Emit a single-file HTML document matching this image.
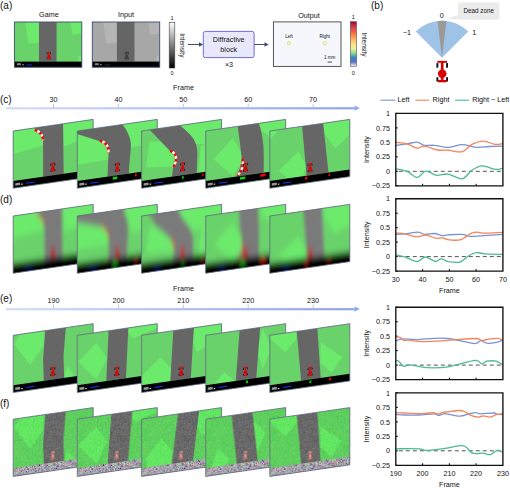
<!DOCTYPE html>
<html><head><meta charset="utf-8"><style>
html,body{margin:0;padding:0;background:#fff;width:510px;height:488px;overflow:hidden}
svg{display:block;font-family:"Liberation Sans",sans-serif}
</style></head><body>
<svg width="510" height="488" viewBox="0 0 510 488" font-family="Liberation Sans, sans-serif" fill="#111">
<defs>
<linearGradient id="tl" x1="0" x2="1" y1="0" y2="0"><stop offset="0" stop-color="#d5dcf4"/><stop offset="1" stop-color="#8ea5ea"/></linearGradient>
<linearGradient id="gbar" x1="0" x2="0" y1="0" y2="1"><stop offset="0" stop-color="#ffffff"/><stop offset="1" stop-color="#000000"/></linearGradient>
<linearGradient id="spec" x1="0" x2="0" y1="0" y2="1">
<stop offset="0" stop-color="#9e0142"/><stop offset="0.12" stop-color="#d53e4f"/><stop offset="0.25" stop-color="#f46d43"/>
<stop offset="0.38" stop-color="#fdae61"/><stop offset="0.5" stop-color="#fee08b"/><stop offset="0.6" stop-color="#e6f598"/>
<stop offset="0.7" stop-color="#99d594"/><stop offset="0.8" stop-color="#3288bd"/><stop offset="0.9" stop-color="#5e6fc2"/><stop offset="1" stop-color="#ffffff"/>
</linearGradient>
<filter id="blur" x="-20%" y="-20%" width="140%" height="140%"><feGaussianBlur stdDeviation="1.8 3"/></filter>
<filter id="noise" x="0" y="0" width="100%" height="100%">
<feTurbulence type="fractalNoise" baseFrequency="1.6" numOctaves="1" seed="3" result="n"/>
<feColorMatrix in="n" type="matrix" values="1.2 0.6 0 0 -0.4  0.6 1.2 0 0 -0.4  0 0.6 1.2 0 -0.4  0 0 0 0 1" result="nc"/>
<feComposite in="SourceGraphic" in2="nc" operator="arithmetic" k1="0" k2="1" k3="0.16" k4="-0.08"/>
</filter>
<filter id="cnoise" x="0" y="0" width="100%" height="100%">
<feTurbulence type="fractalNoise" baseFrequency="1.4" numOctaves="1" seed="7" result="n"/>
<feColorMatrix in="n" type="matrix" values="1.5 0.25 0.25 0 -0.62  0.25 1.5 0.25 0 -0.65  0.25 0.25 1.5 0 -0.6  0 0 0 0 1"/>
</filter>
</defs>
<rect width="510" height="488" fill="#fff"/>
<text x="0" y="8.7" font-size="10">(a)</text>
<text x="48.9" y="17.4" font-size="7.2" text-anchor="middle">Game</text>
<g transform="translate(14.4,22)"><rect x="0" y="0" width="67.4" height="45.2" fill="#6ad26a"/><polygon points="11,0 24.6,0 24.6,20.5 14,21.5" fill="#6cea6c"/><polygon points="56,0 67.4,0 67.4,11.3 58.2,12.7" fill="#6cea6c"/><polygon points="63.5,39.6 64.5,34 67.4,33.5 67.4,39.6" fill="#6cea6c"/><polygon points="24.6,0 42.2,0 42.2,39.6 24.6,39.6" fill="#666666"/><g transform="translate(34.4,29.8) scale(0.357)"><rect x="-4.9" y="0" width="9.8" height="2.2" fill="#e00000"/><rect x="-5.8" y="2.2" width="2.2" height="4.6" fill="#111"/><rect x="3.6" y="2.2" width="2.2" height="4.6" fill="#111"/><rect x="-1.5" y="1" width="3" height="18" fill="#e00000"/><ellipse cx="0" cy="12.9" rx="4.3" ry="4.4" fill="#e00000"/><rect x="-5.8" y="16.3" width="2.2" height="4.3" fill="#111"/><rect x="3.6" y="16.3" width="2.2" height="4.3" fill="#111"/><rect x="-4.4" y="18.8" width="8.8" height="2.6" fill="#e00000"/></g><rect x="0" y="39.6" width="67.4" height="5.6" fill="#000"/><rect x="2.5" y="41.2" width="4" height="2" fill="#aaa" opacity="0.8"/><rect x="8" y="42.3" width="1.2" height="0.9" fill="#fff"/><rect x="12" y="42.5" width="6" height="0.8" fill="#2030ff"/><rect x="0" y="0" width="67.4" height="45.2" fill="none" stroke="#3e4c6c" stroke-width="0.9"/></g>
<text x="125.9" y="17.4" font-size="7.2" text-anchor="middle">Input</text>
<g transform="translate(92.3,22)"><rect x="0" y="0" width="67.4" height="45.2" fill="#a7a7a7"/><polygon points="11,0 24.6,0 24.6,20.5 14,21.5" fill="#b5b5b5"/><polygon points="56,0 67.4,0 67.4,11.3 58.2,12.7" fill="#b5b5b5"/><polygon points="63.5,39.6 64.5,34 67.4,33.5 67.4,39.6" fill="#b5b5b5"/><polygon points="24.6,0 42.2,0 42.2,39.6 24.6,39.6" fill="#656565"/><g transform="translate(34.4,29.8) scale(0.357)"><rect x="-4.9" y="0" width="9.8" height="2.2" fill="#3a3a3a"/><rect x="-5.8" y="2.2" width="2.2" height="4.6" fill="#222"/><rect x="3.6" y="2.2" width="2.2" height="4.6" fill="#222"/><rect x="-1.5" y="1" width="3" height="18" fill="#3a3a3a"/><ellipse cx="0" cy="12.9" rx="4.3" ry="4.4" fill="#3a3a3a"/><rect x="-5.8" y="16.3" width="2.2" height="4.3" fill="#222"/><rect x="3.6" y="16.3" width="2.2" height="4.3" fill="#222"/><rect x="-4.4" y="18.8" width="8.8" height="2.6" fill="#3a3a3a"/></g><rect x="0" y="39.6" width="67.4" height="5.6" fill="#000"/><rect x="2.5" y="41.2" width="4" height="2" fill="#aaa" opacity="0.8"/><rect x="8" y="42.3" width="1.2" height="0.9" fill="#fff"/><rect x="12" y="42.5" width="6" height="0.8" fill="#333"/><rect x="0" y="0" width="67.4" height="45.2" fill="none" stroke="#3e4c6c" stroke-width="0.9"/></g>
<rect x="169.2" y="22.6" width="5.6" height="45.4" fill="url(#gbar)" stroke="#444" stroke-width="0.6"/>
<text x="172" y="19.6" font-size="5.5" text-anchor="middle">1</text>
<text x="172" y="75" font-size="5.5" text-anchor="middle">0</text>
<text transform="translate(179.5,45.3) rotate(90)" font-size="6.5" text-anchor="middle">Intensity</text>
<line x1="188" y1="44.5" x2="200" y2="44.5" stroke="#3d4f70" stroke-width="1"/><polygon points="199,42.3 203.2,44.5 199,46.7" fill="#3d4f70"/>
<rect x="203.3" y="31.4" width="50.8" height="26.2" rx="2" fill="#e8e8fa" stroke="#6e6ed8" stroke-width="1"/>
<text x="228.7" y="42.3" font-size="7.2" text-anchor="middle">Diffractive</text>
<text x="228.7" y="51.6" font-size="7.2" text-anchor="middle">block</text>
<text x="229" y="67.4" font-size="7.2" text-anchor="middle">×3</text>
<line x1="254.2" y1="44.5" x2="265" y2="44.5" stroke="#3d4f70" stroke-width="1"/><polygon points="264.5,42.3 268.7,44.5 264.5,46.7" fill="#3d4f70"/>
<text x="309" y="17.6" font-size="7.2" text-anchor="middle">Output</text>
<rect x="273.4" y="21.9" width="67.6" height="44.5" fill="#f5f7fc" stroke="#444" stroke-width="0.9"/>
<text x="289" y="38.2" font-size="4.6" text-anchor="middle">Left</text>
<text x="324.8" y="38.2" font-size="4.6" text-anchor="middle">Right</text>
<circle cx="289" cy="43.3" r="1.7" fill="#f3f8d0" stroke="#c8dc60" stroke-width="0.7"/>
<circle cx="324.8" cy="43.3" r="1.7" fill="#f3f8d0" stroke="#c8dc60" stroke-width="0.7"/>
<text x="329.7" y="59" font-size="4.6" text-anchor="middle">1 mm</text>
<rect x="327.6" y="61.6" width="4.2" height="0.9" fill="#333"/>
<rect x="350.3" y="21.7" width="6.3" height="44.8" fill="url(#spec)" stroke="#555" stroke-width="0.6"/>
<text x="353.3" y="19.2" font-size="5.5" text-anchor="middle">1</text>
<text x="353.3" y="75" font-size="5.5" text-anchor="middle">0</text>
<text transform="translate(361.5,44.5) rotate(90)" font-size="6.5" text-anchor="middle">Intensity</text>
<text x="371" y="9" font-size="10">(b)</text>
<path d="M442,57.8 L415.8,31.6 A37,37 0 0 1 468.2,31.6 Z" fill="#9fc2e7"/>
<path d="M442,57.8 L437.5,21.1 A37,37 0 0 1 446.5,21.1 Z" fill="#9a9a9a"/>
<text x="441.8" y="17.8" font-size="7.2" text-anchor="middle">0</text>
<text x="407" y="35.2" font-size="7.2" text-anchor="middle">−1</text>
<text x="474.3" y="35.2" font-size="7.2" text-anchor="middle">1</text>
<path d="M460,2.3 H497 Q499.5,2.3 499.5,4.8 V17.3 Q499.5,19.7 497,19.7 H465 L446.5,18.8 L458,15 V4.8 Q458,2.3 460,2.3 Z" fill="#ebebeb"/>
<text x="478.8" y="13.4" font-size="6.3" text-anchor="middle">Dead zone</text>
<g transform="translate(442.2,60.9)"><rect x="-4.9" y="0" width="9.8" height="1.9" fill="#d80000"/><rect x="-5.8" y="2.2" width="1.9" height="4.6" fill="#111"/><rect x="3.9" y="2.2" width="1.9" height="4.6" fill="#111"/><rect x="-1.3" y="1" width="2.6" height="18" fill="#d80000"/><ellipse cx="0" cy="12.9" rx="4.3" ry="4.2" fill="#d80000"/><rect x="-5.8" y="16.3" width="1.9" height="4.3" fill="#111"/><rect x="3.9" y="16.3" width="1.9" height="4.3" fill="#111"/><rect x="-4.4" y="19" width="8.8" height="2.4" fill="#d80000"/></g>
<text x="0" y="102.6" font-size="10">(c)</text><rect x="6" y="107.2" width="348.5" height="2.2" fill="url(#tl)"/><polygon points="354.5,105.6 359.8,108.2 354.5,110.8" fill="#8fa6ea"/><rect x="53.0" y="103.7" width="1" height="4" fill="#b9c6ef"/><text x="53.5" y="101.6" font-size="7.2" text-anchor="middle">30</text><rect x="117.9" y="103.7" width="1" height="4" fill="#b9c6ef"/><text x="118.4" y="101.6" font-size="7.2" text-anchor="middle">40</text><rect x="182.8" y="103.7" width="1" height="4" fill="#b9c6ef"/><text x="183.3" y="101.6" font-size="7.2" text-anchor="middle">50</text><rect x="247.7" y="103.7" width="1" height="4" fill="#b9c6ef"/><text x="248.2" y="101.6" font-size="7.2" text-anchor="middle">60</text><rect x="312.6" y="103.7" width="1" height="4" fill="#b9c6ef"/><text x="313.1" y="101.6" font-size="7.2" text-anchor="middle">70</text><text x="183.5" y="90.2" font-size="7.2" text-anchor="middle">Frame</text>
<text x="0" y="302.0" font-size="10">(e)</text><rect x="6" y="308.1" width="348.5" height="2.2" fill="url(#tl)"/><polygon points="354.5,306.5 359.8,309.1 354.5,311.7" fill="#8fa6ea"/><rect x="53.0" y="304.6" width="1" height="4" fill="#b9c6ef"/><text x="53.5" y="302.5" font-size="7.2" text-anchor="middle">190</text><rect x="117.9" y="304.6" width="1" height="4" fill="#b9c6ef"/><text x="118.4" y="302.5" font-size="7.2" text-anchor="middle">200</text><rect x="182.8" y="304.6" width="1" height="4" fill="#b9c6ef"/><text x="183.3" y="302.5" font-size="7.2" text-anchor="middle">210</text><rect x="247.7" y="304.6" width="1" height="4" fill="#b9c6ef"/><text x="248.2" y="302.5" font-size="7.2" text-anchor="middle">220</text><rect x="312.6" y="304.6" width="1" height="4" fill="#b9c6ef"/><text x="313.1" y="302.5" font-size="7.2" text-anchor="middle">230</text><text x="183.5" y="291.2" font-size="7.2" text-anchor="middle">Frame</text>
<text x="0" y="202.6" font-size="10">(d)</text>
<text x="0" y="406.6" font-size="10">(f)</text>
<g transform="matrix(1,-0.145,0,1,13.2,131.0)"><clipPath id="clip_c0"><rect x="0" y="0" width="80" height="57.2"/></clipPath><rect x="0" y="0" width="80" height="57.2" fill="#fff"/><g clip-path="url(#clip_c0)"><rect x="0" y="0" width="80" height="57.2" fill="#6ad26a"/><polygon points="0.0,0.0 21.5,0.0 29.9,13.5 29.9,18.8 0.0,23.2" fill="#6cea6c"/><polygon points="49.8,0.0 80.0,0.0 80.0,15.0 50.5,23.0" fill="#6cea6c"/><polygon points="62.0,50.0 80.0,38.0 80.0,50.0" fill="#6cea6c"/><polygon points="21.0,0.0 49.8,0.0 50.5,50.0 29.9,50.0 29.9,13.5 28.5,8.0 25.0,3.5" fill="#666666"/><path d="M21.5,2.2 Q28.8,4.5 29.9,13.5" fill="none" stroke="#ff0000" stroke-width="2.2"/><path d="M21.5,2.2 Q28.8,4.5 29.9,13.5" fill="none" stroke="#ffffff" stroke-width="2.2" stroke-dasharray="2.8 2.8" stroke-dashoffset="2.8"/><g transform="translate(39.7,37.5) scale(0.420)"><rect x="-4.9" y="0" width="9.8" height="2.2" fill="#e00000"/><rect x="-5.8" y="2.2" width="2.2" height="4.6" fill="#111"/><rect x="3.6" y="2.2" width="2.2" height="4.6" fill="#111"/><rect x="-1.5" y="1" width="3" height="18" fill="#e00000"/><ellipse cx="0" cy="12.9" rx="4.3" ry="4.4" fill="#e00000"/><rect x="-5.8" y="16.3" width="2.2" height="4.3" fill="#111"/><rect x="3.6" y="16.3" width="2.2" height="4.3" fill="#111"/><rect x="-4.4" y="18.8" width="8.8" height="2.6" fill="#e00000"/></g><rect x="0" y="50" width="80" height="7.2" fill="#000"/><rect x="2" y="52.5" width="5" height="2.6" fill="#bbb" opacity="0.8"/><rect x="8" y="54" width="1.5" height="1" fill="#fff"/><rect x="13" y="53.6" width="8.5" height="1" fill="#2030ff"/></g><rect x="0" y="0" width="80" height="57.2" fill="none" stroke="#5a6478" stroke-width="0.8"/></g><g transform="matrix(1,-0.145,0,1,77.3,131.0)"><clipPath id="clip_c1"><rect x="0" y="0" width="80" height="57.2"/></clipPath><rect x="0" y="0" width="80" height="57.2" fill="#fff"/><g clip-path="url(#clip_c1)"><rect x="0" y="0" width="80" height="57.2" fill="#6ad26a"/><polygon points="0.0,3.0 23.5,14.0 31.3,19.8 31.0,33.0 0.0,34.0" fill="#6cea6c"/><polygon points="45.0,0.0 80.0,0.0 80.0,24.0 53.0,24.0 53.6,20.4 50.7,9.9" fill="#6cea6c"/><polygon points="0.0,0.0 45.0,0.0 48.5,5.0 50.7,9.9 52.6,15.0 53.6,20.4 53.5,26.0 52.9,31.7 52.0,40.0 51.5,50.0 30.1,50.0 31.3,26.6 30.0,21.0 27.0,17.0 23.5,14.0 0.0,3.0" fill="#666666"/><path d="M22.5,13.2 Q31.5,16 31.3,26.6" fill="none" stroke="#ff0000" stroke-width="2.2"/><path d="M22.5,13.2 Q31.5,16 31.3,26.6" fill="none" stroke="#ffffff" stroke-width="2.2" stroke-dasharray="2.8 2.8" stroke-dashoffset="2.8"/><g transform="translate(40.0,37.5) scale(0.420)"><rect x="-4.9" y="0" width="9.8" height="2.2" fill="#e00000"/><rect x="-5.8" y="2.2" width="2.2" height="4.6" fill="#111"/><rect x="3.6" y="2.2" width="2.2" height="4.6" fill="#111"/><rect x="-1.5" y="1" width="3" height="18" fill="#e00000"/><ellipse cx="0" cy="12.9" rx="4.3" ry="4.4" fill="#e00000"/><rect x="-5.8" y="16.3" width="2.2" height="4.3" fill="#111"/><rect x="3.6" y="16.3" width="2.2" height="4.3" fill="#111"/><rect x="-4.4" y="18.8" width="8.8" height="2.6" fill="#e00000"/></g><rect x="0" y="50" width="80" height="7.2" fill="#000"/><rect x="2" y="52.5" width="5" height="2.6" fill="#bbb" opacity="0.8"/><rect x="8" y="54" width="1.5" height="1" fill="#fff"/><rect x="13" y="53.6" width="8.5" height="1" fill="#2030ff"/><rect x="35.6" y="51.2" width="4.4" height="2.6" fill="#00e000"/><rect x="57.7" y="51.2" width="1.7" height="2.6" fill="#ff0000"/></g><rect x="0" y="0" width="80" height="57.2" fill="none" stroke="#5a6478" stroke-width="0.8"/></g><g transform="matrix(1,-0.145,0,1,141.6,131.0)"><clipPath id="clip_c2"><rect x="0" y="0" width="80" height="57.2"/></clipPath><rect x="0" y="0" width="80" height="57.2" fill="#fff"/><g clip-path="url(#clip_c2)"><rect x="0" y="0" width="80" height="57.2" fill="#6ad26a"/><polygon points="8.0,11.7 23.9,13.9 28.4,24.1 33.0,30.0 32.0,40.0 4.4,37.5" fill="#6cea6c"/><polygon points="38.4,0.0 80.0,0.0 80.0,20.0 64.0,22.0 54.4,21.2 48.4,11.0" fill="#6cea6c"/><polygon points="59.0,24.0 64.0,22.0 64.0,50.0 57.0,50.0" fill="#6cea6c"/><polygon points="8.0,0.0 38.4,0.0 43.5,5.0 48.4,10.5 52.0,15.5 54.4,21.2 55.5,26.5 55.8,32.0 55.5,40.0 55.1,50.0 30.4,50.0 31.7,40.6 34.4,34.3 33.7,28.9 28.4,24.1" fill="#666666"/><path d="M28.4,24.1 C33,26 35,30 34.4,34.3 C34,37 33,39 31.7,40.6" fill="none" stroke="#ff0000" stroke-width="2.2"/><path d="M28.4,24.1 C33,26 35,30 34.4,34.3 C34,37 33,39 31.7,40.6" fill="none" stroke="#ffffff" stroke-width="2.2" stroke-dasharray="2.8 2.8" stroke-dashoffset="2.8"/><g transform="translate(41.0,37.3) scale(0.420)"><rect x="-4.9" y="0" width="9.8" height="2.2" fill="#e00000"/><rect x="-5.8" y="2.2" width="2.2" height="4.6" fill="#111"/><rect x="3.6" y="2.2" width="2.2" height="4.6" fill="#111"/><rect x="-1.5" y="1" width="3" height="18" fill="#e00000"/><ellipse cx="0" cy="12.9" rx="4.3" ry="4.4" fill="#e00000"/><rect x="-5.8" y="16.3" width="2.2" height="4.3" fill="#111"/><rect x="3.6" y="16.3" width="2.2" height="4.3" fill="#111"/><rect x="-4.4" y="18.8" width="8.8" height="2.6" fill="#e00000"/></g><rect x="0" y="50" width="80" height="7.2" fill="#000"/><rect x="2" y="52.5" width="5" height="2.6" fill="#bbb" opacity="0.8"/><rect x="8" y="54" width="1.5" height="1" fill="#fff"/><rect x="13" y="53.6" width="8.5" height="1" fill="#2030ff"/><rect x="40.5" y="51.2" width="1.5" height="2.6" fill="#00e000"/><rect x="60.5" y="51.2" width="1.5" height="2.6" fill="#ff0000"/></g><rect x="0" y="0" width="80" height="57.2" fill="none" stroke="#5a6478" stroke-width="0.8"/></g><g transform="matrix(1,-0.145,0,1,205.7,131.0)"><clipPath id="clip_c3"><rect x="0" y="0" width="80" height="57.2"/></clipPath><rect x="0" y="0" width="80" height="57.2" fill="#fff"/><g clip-path="url(#clip_c3)"><rect x="0" y="0" width="80" height="57.2" fill="#6ad26a"/><polygon points="27.0,10.7 37.0,29.4 34.0,40.0 27.0,48.7 8.1,29.5" fill="#6cea6c"/><polygon points="53.0,0.0 80.0,0.0 80.0,30.0 68.0,18.0 56.0,8.0" fill="#6cea6c"/><polygon points="32.0,0.0 52.9,0.0 54.6,5.0 55.8,10.0 57.0,17.0 57.8,25.0 58.1,36.4 58.0,50.0 31.5,50.0 36.3,35.1 34.0,15.0" fill="#666666"/><path d="M36.8,33 Q38.2,44 31.5,49.5" fill="none" stroke="#ff0000" stroke-width="2.2"/><path d="M36.8,33 Q38.2,44 31.5,49.5" fill="none" stroke="#ffffff" stroke-width="2.2" stroke-dasharray="2.8 2.8" stroke-dashoffset="2.8"/><g transform="translate(40.0,37.5) scale(0.420)"><rect x="-4.9" y="0" width="9.8" height="2.2" fill="#e00000"/><rect x="-5.8" y="2.2" width="2.2" height="4.6" fill="#111"/><rect x="3.6" y="2.2" width="2.2" height="4.6" fill="#111"/><rect x="-1.5" y="1" width="3" height="18" fill="#e00000"/><ellipse cx="0" cy="12.9" rx="4.3" ry="4.4" fill="#e00000"/><rect x="-5.8" y="16.3" width="2.2" height="4.3" fill="#111"/><rect x="3.6" y="16.3" width="2.2" height="4.3" fill="#111"/><rect x="-4.4" y="18.8" width="8.8" height="2.6" fill="#e00000"/></g><rect x="0" y="50" width="80" height="7.2" fill="#000"/><rect x="2" y="52.5" width="5" height="2.6" fill="#bbb" opacity="0.8"/><rect x="8" y="54" width="1.5" height="1" fill="#fff"/><rect x="13" y="53.6" width="8.5" height="1" fill="#2030ff"/><rect x="34.3" y="51.2" width="5.3" height="2.6" fill="#00e000"/><rect x="54.6" y="51.2" width="5.3" height="2.6" fill="#ff0000"/></g><rect x="0" y="0" width="80" height="57.2" fill="none" stroke="#5a6478" stroke-width="0.8"/></g><g transform="matrix(1,-0.145,0,1,269.8,131.0)"><clipPath id="clip_c4"><rect x="0" y="0" width="80" height="57.2"/></clipPath><rect x="0" y="0" width="80" height="57.2" fill="#fff"/><g clip-path="url(#clip_c4)"><rect x="0" y="0" width="80" height="57.2" fill="#6ad26a"/><polygon points="0.0,0.0 9.0,0.0 0.0,9.0" fill="#6cea6c"/><polygon points="28.5,24.5 36.8,40.0 33.0,50.0 18.0,50.0 8.8,41.4" fill="#6cea6c"/><polygon points="53.3,0.0 80.0,0.0 80.0,15.7 65.6,26.8 54.8,10.6" fill="#6cea6c"/><polygon points="32.3,0.0 53.3,0.0 58.7,50.0 36.8,50.0" fill="#666666"/><g transform="translate(40.2,38.0) scale(0.420)"><rect x="-4.9" y="0" width="9.8" height="2.2" fill="#e00000"/><rect x="-5.8" y="2.2" width="2.2" height="4.6" fill="#111"/><rect x="3.6" y="2.2" width="2.2" height="4.6" fill="#111"/><rect x="-1.5" y="1" width="3" height="18" fill="#e00000"/><ellipse cx="0" cy="12.9" rx="4.3" ry="4.4" fill="#e00000"/><rect x="-5.8" y="16.3" width="2.2" height="4.3" fill="#111"/><rect x="3.6" y="16.3" width="2.2" height="4.3" fill="#111"/><rect x="-4.4" y="18.8" width="8.8" height="2.6" fill="#e00000"/></g><rect x="0" y="50" width="80" height="7.2" fill="#000"/><rect x="2" y="52.5" width="5" height="2.6" fill="#bbb" opacity="0.8"/><rect x="8" y="54" width="1.5" height="1" fill="#fff"/><rect x="13" y="53.6" width="8.5" height="1" fill="#2030ff"/><rect x="35.3" y="51.2" width="2.3" height="2.6" fill="#ff0000"/><rect x="58.7" y="51.2" width="1.5" height="2.6" fill="#ff0000"/></g><rect x="0" y="0" width="80" height="57.2" fill="none" stroke="#5a6478" stroke-width="0.8"/></g>
<g transform="matrix(1,-0.145,0,1,13.2,216.0)"><clipPath id="clip_d0"><rect x="0" y="0" width="80" height="57.2"/></clipPath><rect x="0" y="0" width="80" height="57.2" fill="#fff"/><g clip-path="url(#clip_d0)"><g filter="url(#blur)"><rect x="-12" y="-12" width="104" height="81" fill="#6ad26a"/><polygon points="-12.0,-12.0 21.5,-12.0 29.9,13.5 29.9,18.8 -12.0,23.2" fill="#6cea6c"/><polygon points="49.8,-12.0 92.0,-12.0 92.0,15.0 50.5,23.0" fill="#6cea6c"/><polygon points="62.0,50.0 92.0,38.0 92.0,50.0" fill="#6cea6c"/><polygon points="22.0,-12.0 48.8,-12.0 49.6,50.0 31.3,50.0 31.0,13.5 29.5,8.0 26.0,3.5" fill="#7a7a7a"/><path d="M22.5,2.2 Q29.8,4.5 31,13.5" fill="none" stroke="#d87038" stroke-width="1.8" opacity="0.8"/><g transform="translate(39.7,37.5) scale(0.420)"><rect x="-4.9" y="0" width="9.8" height="2.2" fill="#e00000"/><rect x="-5.8" y="2.2" width="2.2" height="4.6" fill="#111"/><rect x="3.6" y="2.2" width="2.2" height="4.6" fill="#111"/><rect x="-1.5" y="1" width="3" height="18" fill="#e00000"/><ellipse cx="0" cy="12.9" rx="4.3" ry="4.4" fill="#e00000"/><rect x="-5.8" y="16.3" width="2.2" height="4.3" fill="#111"/><rect x="3.6" y="16.3" width="2.2" height="4.3" fill="#111"/><rect x="-4.4" y="18.8" width="8.8" height="2.6" fill="#e00000"/></g><rect x="-12" y="47.5" width="104" height="22" fill="#000"/><rect x="12" y="53.8" width="8" height="1.2" fill="#1828a0"/></g></g><rect x="0" y="0" width="80" height="57.2" fill="none" stroke="#5a6478" stroke-width="0.8"/></g><g transform="matrix(1,-0.145,0,1,77.3,216.0)"><clipPath id="clip_d1"><rect x="0" y="0" width="80" height="57.2"/></clipPath><rect x="0" y="0" width="80" height="57.2" fill="#fff"/><g clip-path="url(#clip_d1)"><g filter="url(#blur)"><rect x="-12" y="-12" width="104" height="81" fill="#6ad26a"/><polygon points="-12.0,3.0 23.5,14.0 31.3,19.8 31.0,33.0 -12.0,34.0" fill="#6cea6c"/><polygon points="45.0,-12.0 92.0,-12.0 92.0,24.0 53.0,24.0 53.6,20.4 50.7,9.9" fill="#6cea6c"/><polygon points="-12.0,-12.0 44.0,-12.0 47.5,5.0 49.5,10.0 51.0,20.0 50.5,32.0 49.5,50.0 31.0,50.0 31.3,26.6 30.0,21.0 27.0,17.0 23.5,14.0 -12.0,3.0" fill="#7a7a7a"/><path d="M22.5,13.2 Q31.5,16 31.3,26.6" fill="none" stroke="#d87038" stroke-width="1.8" opacity="0.8"/><g transform="translate(40.0,37.5) scale(0.420)"><rect x="-4.9" y="0" width="9.8" height="2.2" fill="#e00000"/><rect x="-5.8" y="2.2" width="2.2" height="4.6" fill="#111"/><rect x="3.6" y="2.2" width="2.2" height="4.6" fill="#111"/><rect x="-1.5" y="1" width="3" height="18" fill="#e00000"/><ellipse cx="0" cy="12.9" rx="4.3" ry="4.4" fill="#e00000"/><rect x="-5.8" y="16.3" width="2.2" height="4.3" fill="#111"/><rect x="3.6" y="16.3" width="2.2" height="4.3" fill="#111"/><rect x="-4.4" y="18.8" width="8.8" height="2.6" fill="#e00000"/></g><rect x="-12" y="47.5" width="104" height="22" fill="#000"/><rect x="12" y="53.8" width="8" height="1.2" fill="#1828a0"/><rect x="35.6" y="51.2" width="4.4" height="2.6" fill="#00e000"/><rect x="57.7" y="51.2" width="1.7" height="2.6" fill="#ff0000"/></g></g><rect x="0" y="0" width="80" height="57.2" fill="none" stroke="#5a6478" stroke-width="0.8"/></g><g transform="matrix(1,-0.145,0,1,141.6,216.0)"><clipPath id="clip_d2"><rect x="0" y="0" width="80" height="57.2"/></clipPath><rect x="0" y="0" width="80" height="57.2" fill="#fff"/><g clip-path="url(#clip_d2)"><g filter="url(#blur)"><rect x="-12" y="-12" width="104" height="81" fill="#6ad26a"/><polygon points="8.0,11.7 23.9,13.9 28.4,24.1 33.0,30.0 32.0,40.0 4.4,37.5" fill="#6cea6c"/><polygon points="31.7,-12.0 92.0,-12.0 92.0,20.0 64.0,22.0 51.0,21.0 41.0,8.0" fill="#6cea6c"/><polygon points="59.0,24.0 64.0,22.0 64.0,50.0 57.0,50.0" fill="#6cea6c"/><polygon points="1.7,-12.0 31.7,-12.0 41.0,8.0 48.4,19.3 51.0,26.0 51.7,33.2 51.7,50.0 31.0,50.0 32.5,38.0 28.4,26.4 14.0,12.0" fill="#7a7a7a"/><path d="M28.4,26.4 Q33.5,30 32.5,38" fill="none" stroke="#d87038" stroke-width="1.8" opacity="0.8"/><g transform="translate(41.0,37.3) scale(0.420)"><rect x="-4.9" y="0" width="9.8" height="2.2" fill="#e00000"/><rect x="-5.8" y="2.2" width="2.2" height="4.6" fill="#111"/><rect x="3.6" y="2.2" width="2.2" height="4.6" fill="#111"/><rect x="-1.5" y="1" width="3" height="18" fill="#e00000"/><ellipse cx="0" cy="12.9" rx="4.3" ry="4.4" fill="#e00000"/><rect x="-5.8" y="16.3" width="2.2" height="4.3" fill="#111"/><rect x="3.6" y="16.3" width="2.2" height="4.3" fill="#111"/><rect x="-4.4" y="18.8" width="8.8" height="2.6" fill="#e00000"/></g><rect x="-12" y="47.5" width="104" height="22" fill="#000"/><rect x="12" y="53.8" width="8" height="1.2" fill="#1828a0"/><rect x="40.5" y="51.2" width="1.5" height="2.6" fill="#00e000"/><rect x="60.5" y="51.2" width="1.5" height="2.6" fill="#ff0000"/></g></g><rect x="0" y="0" width="80" height="57.2" fill="none" stroke="#5a6478" stroke-width="0.8"/></g><g transform="matrix(1,-0.145,0,1,205.7,216.0)"><clipPath id="clip_d3"><rect x="0" y="0" width="80" height="57.2"/></clipPath><rect x="0" y="0" width="80" height="57.2" fill="#fff"/><g clip-path="url(#clip_d3)"><g filter="url(#blur)"><rect x="-12" y="-12" width="104" height="81" fill="#6ad26a"/><polygon points="27.0,10.7 37.0,29.4 34.0,40.0 27.0,48.7 8.1,29.5" fill="#6cea6c"/><polygon points="53.0,-12.0 92.0,-12.0 92.0,30.0 68.0,18.0 56.0,8.0" fill="#6cea6c"/><polygon points="32.5,-12.0 51.6,-12.0 53.2,15.0 53.5,30.0 53.3,50.0 32.0,50.0 36.6,35.0 34.0,15.0" fill="#7a7a7a"/><path d="M36.8,33 Q38.2,44 31.5,49.5" fill="none" stroke="#d87038" stroke-width="1.8" opacity="0.8"/><g transform="translate(40.0,37.5) scale(0.420)"><rect x="-4.9" y="0" width="9.8" height="2.2" fill="#e00000"/><rect x="-5.8" y="2.2" width="2.2" height="4.6" fill="#111"/><rect x="3.6" y="2.2" width="2.2" height="4.6" fill="#111"/><rect x="-1.5" y="1" width="3" height="18" fill="#e00000"/><ellipse cx="0" cy="12.9" rx="4.3" ry="4.4" fill="#e00000"/><rect x="-5.8" y="16.3" width="2.2" height="4.3" fill="#111"/><rect x="3.6" y="16.3" width="2.2" height="4.3" fill="#111"/><rect x="-4.4" y="18.8" width="8.8" height="2.6" fill="#e00000"/></g><rect x="-12" y="47.5" width="104" height="22" fill="#000"/><rect x="12" y="53.8" width="8" height="1.2" fill="#1828a0"/><rect x="34.3" y="51.2" width="5.3" height="2.6" fill="#00e000"/><rect x="54.6" y="51.2" width="5.3" height="2.6" fill="#ff0000"/></g></g><rect x="0" y="0" width="80" height="57.2" fill="none" stroke="#5a6478" stroke-width="0.8"/></g><g transform="matrix(1,-0.145,0,1,269.8,216.0)"><clipPath id="clip_d4"><rect x="0" y="0" width="80" height="57.2"/></clipPath><rect x="0" y="0" width="80" height="57.2" fill="#fff"/><g clip-path="url(#clip_d4)"><g filter="url(#blur)"><rect x="-12" y="-12" width="104" height="81" fill="#6ad26a"/><polygon points="-12.0,-12.0 9.0,-12.0 -12.0,9.0" fill="#6cea6c"/><polygon points="28.5,24.5 36.8,40.0 33.0,50.0 18.0,50.0 8.8,41.4" fill="#6cea6c"/><polygon points="53.3,-12.0 92.0,-12.0 92.0,15.7 65.6,26.8 54.8,10.6" fill="#6cea6c"/><polygon points="32.4,-12.0 51.5,-12.0 54.9,50.0 37.4,50.0" fill="#7a7a7a"/><g transform="translate(40.2,38.0) scale(0.420)"><rect x="-4.9" y="0" width="9.8" height="2.2" fill="#e00000"/><rect x="-5.8" y="2.2" width="2.2" height="4.6" fill="#111"/><rect x="3.6" y="2.2" width="2.2" height="4.6" fill="#111"/><rect x="-1.5" y="1" width="3" height="18" fill="#e00000"/><ellipse cx="0" cy="12.9" rx="4.3" ry="4.4" fill="#e00000"/><rect x="-5.8" y="16.3" width="2.2" height="4.3" fill="#111"/><rect x="3.6" y="16.3" width="2.2" height="4.3" fill="#111"/><rect x="-4.4" y="18.8" width="8.8" height="2.6" fill="#e00000"/></g><rect x="-12" y="47.5" width="104" height="22" fill="#000"/><rect x="12" y="53.8" width="8" height="1.2" fill="#1828a0"/><rect x="35.3" y="51.2" width="2.3" height="2.6" fill="#ff0000"/><rect x="58.7" y="51.2" width="1.5" height="2.6" fill="#ff0000"/></g></g><rect x="0" y="0" width="80" height="57.2" fill="none" stroke="#5a6478" stroke-width="0.8"/></g>
<g transform="matrix(1,-0.145,0,1,13.2,335.3)"><clipPath id="clip_e0"><rect x="0" y="0" width="80" height="57.2"/></clipPath><rect x="0" y="0" width="80" height="57.2" fill="#fff"/><g clip-path="url(#clip_e0)"><rect x="0" y="0" width="80" height="57.2" fill="#6ad26a"/><polygon points="7.0,0.0 30.8,0.0 30.2,15.0 17.0,31.9 1.1,9.1" fill="#6cea6c"/><polygon points="53.8,38.1 60.8,48.0 60.0,50.0 50.6,50.0" fill="#6cea6c"/><polygon points="32.1,0.0 52.6,0.0 50.3,28.0 51.0,50.0 30.6,50.0 29.9,28.0" fill="#666666"/><g transform="translate(39.7,37.4) scale(0.420)"><rect x="-4.9" y="0" width="9.8" height="2.2" fill="#e00000"/><rect x="-5.8" y="2.2" width="2.2" height="4.6" fill="#111"/><rect x="3.6" y="2.2" width="2.2" height="4.6" fill="#111"/><rect x="-1.5" y="1" width="3" height="18" fill="#e00000"/><ellipse cx="0" cy="12.9" rx="4.3" ry="4.4" fill="#e00000"/><rect x="-5.8" y="16.3" width="2.2" height="4.3" fill="#111"/><rect x="3.6" y="16.3" width="2.2" height="4.3" fill="#111"/><rect x="-4.4" y="18.8" width="8.8" height="2.6" fill="#e00000"/></g><rect x="0" y="50" width="80" height="7.2" fill="#000"/><rect x="2" y="52.5" width="5" height="2.6" fill="#bbb" opacity="0.8"/><rect x="8" y="54" width="1.5" height="1" fill="#fff"/><rect x="13" y="53.6" width="8.5" height="1" fill="#2030ff"/></g><rect x="0" y="0" width="80" height="57.2" fill="none" stroke="#5a6478" stroke-width="0.8"/></g><g transform="matrix(1,-0.145,0,1,77.3,335.3)"><clipPath id="clip_e1"><rect x="0" y="0" width="80" height="57.2"/></clipPath><rect x="0" y="0" width="80" height="57.2" fill="#fff"/><g clip-path="url(#clip_e1)"><rect x="0" y="0" width="80" height="57.2" fill="#6ad26a"/><polygon points="19.2,10.2 29.8,26.9 19.2,47.3 1.0,26.5" fill="#6cea6c"/><polygon points="51.0,0.0 80.0,0.0 80.0,4.0 55.5,11.6 50.8,4.0" fill="#6cea6c"/><polygon points="31.3,0.0 51.0,0.0 48.7,50.0 29.0,50.0" fill="#666666"/><g transform="translate(39.5,37.3) scale(0.420)"><rect x="-4.9" y="0" width="9.8" height="2.2" fill="#e00000"/><rect x="-5.8" y="2.2" width="2.2" height="4.6" fill="#111"/><rect x="3.6" y="2.2" width="2.2" height="4.6" fill="#111"/><rect x="-1.5" y="1" width="3" height="18" fill="#e00000"/><ellipse cx="0" cy="12.9" rx="4.3" ry="4.4" fill="#e00000"/><rect x="-5.8" y="16.3" width="2.2" height="4.3" fill="#111"/><rect x="3.6" y="16.3" width="2.2" height="4.3" fill="#111"/><rect x="-4.4" y="18.8" width="8.8" height="2.6" fill="#e00000"/></g><rect x="0" y="50" width="80" height="7.2" fill="#000"/><rect x="2" y="52.5" width="5" height="2.6" fill="#bbb" opacity="0.8"/><rect x="8" y="54" width="1.5" height="1" fill="#fff"/><rect x="13" y="53.6" width="8.5" height="1" fill="#2030ff"/></g><rect x="0" y="0" width="80" height="57.2" fill="none" stroke="#5a6478" stroke-width="0.8"/></g><g transform="matrix(1,-0.145,0,1,141.6,335.3)"><clipPath id="clip_e2"><rect x="0" y="0" width="80" height="57.2"/></clipPath><rect x="0" y="0" width="80" height="57.2" fill="#fff"/><g clip-path="url(#clip_e2)"><rect x="0" y="0" width="80" height="57.2" fill="#6ad26a"/><polygon points="18.9,24.5 29.5,37.5 29.0,50.0 0.0,50.0 0.0,41.0" fill="#6cea6c"/><polygon points="52.2,0.0 80.0,0.0 80.0,12.0 55.2,25.3 51.5,14.0" fill="#6cea6c"/><polygon points="31.7,0.0 52.2,0.0 49.2,50.0 28.7,50.0" fill="#666666"/><g transform="translate(39.5,37.3) scale(0.420)"><rect x="-4.9" y="0" width="9.8" height="2.2" fill="#e00000"/><rect x="-5.8" y="2.2" width="2.2" height="4.6" fill="#111"/><rect x="3.6" y="2.2" width="2.2" height="4.6" fill="#111"/><rect x="-1.5" y="1" width="3" height="18" fill="#e00000"/><ellipse cx="0" cy="12.9" rx="4.3" ry="4.4" fill="#e00000"/><rect x="-5.8" y="16.3" width="2.2" height="4.3" fill="#111"/><rect x="3.6" y="16.3" width="2.2" height="4.3" fill="#111"/><rect x="-4.4" y="18.8" width="8.8" height="2.6" fill="#e00000"/></g><rect x="0" y="50" width="80" height="7.2" fill="#000"/><rect x="2" y="52.5" width="5" height="2.6" fill="#bbb" opacity="0.8"/><rect x="8" y="54" width="1.5" height="1" fill="#fff"/><rect x="13" y="53.6" width="8.5" height="1" fill="#2030ff"/></g><rect x="0" y="0" width="80" height="57.2" fill="none" stroke="#5a6478" stroke-width="0.8"/></g><g transform="matrix(1,-0.145,0,1,205.7,335.3)"><clipPath id="clip_e3"><rect x="0" y="0" width="80" height="57.2"/></clipPath><rect x="0" y="0" width="80" height="57.2" fill="#fff"/><g clip-path="url(#clip_e3)"><rect x="0" y="0" width="80" height="57.2" fill="#6ad26a"/><polygon points="18.8,39.7 29.0,50.0 8.5,50.0" fill="#6cea6c"/><polygon points="57.1,1.7 66.0,22.0 57.1,41.9 51.3,23.6" fill="#6cea6c"/><polygon points="33.9,0.0 54.4,0.0 50.6,50.0 30.1,50.0" fill="#666666"/><g transform="translate(39.7,37.3) scale(0.420)"><rect x="-4.9" y="0" width="9.8" height="2.2" fill="#e00000"/><rect x="-5.8" y="2.2" width="2.2" height="4.6" fill="#111"/><rect x="3.6" y="2.2" width="2.2" height="4.6" fill="#111"/><rect x="-1.5" y="1" width="3" height="18" fill="#e00000"/><ellipse cx="0" cy="12.9" rx="4.3" ry="4.4" fill="#e00000"/><rect x="-5.8" y="16.3" width="2.2" height="4.3" fill="#111"/><rect x="3.6" y="16.3" width="2.2" height="4.3" fill="#111"/><rect x="-4.4" y="18.8" width="8.8" height="2.6" fill="#e00000"/></g><rect x="0" y="50" width="80" height="7.2" fill="#000"/><rect x="2" y="52.5" width="5" height="2.6" fill="#bbb" opacity="0.8"/><rect x="8" y="54" width="1.5" height="1" fill="#fff"/><rect x="13" y="53.6" width="8.5" height="1" fill="#2030ff"/><rect x="40.2" y="51.2" width="2.0" height="2.6" fill="#00e000"/></g><rect x="0" y="0" width="80" height="57.2" fill="none" stroke="#5a6478" stroke-width="0.8"/></g><g transform="matrix(1,-0.145,0,1,269.8,335.3)"><clipPath id="clip_e4"><rect x="0" y="0" width="80" height="57.2"/></clipPath><rect x="0" y="0" width="80" height="57.2" fill="#fff"/><g clip-path="url(#clip_e4)"><rect x="0" y="0" width="80" height="57.2" fill="#6ad26a"/><polygon points="0.0,0.0 26.6,0.0 26.4,8.0 15.6,19.2 0.0,3.0" fill="#6cea6c"/><polygon points="50.9,14.5 72.5,32.3 61.7,46.4 50.7,35.0" fill="#6cea6c"/><polygon points="27.0,0.0 47.6,0.0 50.9,50.0 31.3,50.0" fill="#666666"/><g transform="translate(40.3,37.6) scale(0.420)"><rect x="-4.9" y="0" width="9.8" height="2.2" fill="#e00000"/><rect x="-5.8" y="2.2" width="2.2" height="4.6" fill="#111"/><rect x="3.6" y="2.2" width="2.2" height="4.6" fill="#111"/><rect x="-1.5" y="1" width="3" height="18" fill="#e00000"/><ellipse cx="0" cy="12.9" rx="4.3" ry="4.4" fill="#e00000"/><rect x="-5.8" y="16.3" width="2.2" height="4.3" fill="#111"/><rect x="3.6" y="16.3" width="2.2" height="4.3" fill="#111"/><rect x="-4.4" y="18.8" width="8.8" height="2.6" fill="#e00000"/></g><rect x="0" y="50" width="80" height="7.2" fill="#000"/><rect x="2" y="52.5" width="5" height="2.6" fill="#bbb" opacity="0.8"/><rect x="8" y="54" width="1.5" height="1" fill="#fff"/><rect x="13" y="53.6" width="8.5" height="1" fill="#2030ff"/><rect x="39.7" y="51.2" width="1.8" height="2.6" fill="#00e000"/><rect x="59.3" y="51.2" width="2.0" height="2.6" fill="#ff0000"/></g><rect x="0" y="0" width="80" height="57.2" fill="none" stroke="#5a6478" stroke-width="0.8"/></g>
<g transform="matrix(1,-0.145,0,1,13.2,419.2)"><clipPath id="clip_f0"><rect x="0" y="0" width="80" height="57.2"/></clipPath><rect x="0" y="0" width="80" height="57.2" fill="#fff"/><g clip-path="url(#clip_f0)"><g filter="url(#noise)"><rect x="0" y="0" width="80" height="57.2" fill="#5ecf5e"/><polygon points="7.0,0.0 30.8,0.0 30.2,15.0 17.0,31.9 1.1,9.1" fill="#62e662"/><polygon points="53.8,38.1 60.8,48.0 60.0,50.0 50.6,50.0" fill="#62e662"/><polygon points="32.1,0.0 52.6,0.0 50.3,28.0 51.0,50.0 30.6,50.0 29.9,28.0" fill="#686868"/><g transform="translate(39.7,37.9) scale(0.357)"><rect x="-4.9" y="0" width="9.8" height="2.2" fill="#e89090"/><rect x="-5.8" y="2.2" width="2.2" height="4.6" fill="#c08080"/><rect x="3.6" y="2.2" width="2.2" height="4.6" fill="#c08080"/><rect x="-1.5" y="1" width="3" height="18" fill="#e89090"/><ellipse cx="0" cy="12.9" rx="4.3" ry="4.4" fill="#e89090"/><rect x="-5.8" y="16.3" width="2.2" height="4.3" fill="#c08080"/><rect x="3.6" y="16.3" width="2.2" height="4.3" fill="#c08080"/><rect x="-4.4" y="18.8" width="8.8" height="2.6" fill="#e89090"/></g></g><rect x="0" y="49.3" width="80" height="8.5" filter="url(#cnoise)"/></g><rect x="0" y="0" width="80" height="57.2" fill="none" stroke="#5a6478" stroke-width="0.8"/></g><g transform="matrix(1,-0.145,0,1,77.3,419.2)"><clipPath id="clip_f1"><rect x="0" y="0" width="80" height="57.2"/></clipPath><rect x="0" y="0" width="80" height="57.2" fill="#fff"/><g clip-path="url(#clip_f1)"><g filter="url(#noise)"><rect x="0" y="0" width="80" height="57.2" fill="#5ecf5e"/><polygon points="19.2,10.2 29.8,26.9 19.2,47.3 1.0,26.5" fill="#62e662"/><polygon points="55.0,0.0 80.0,0.0 80.0,4.0 58.0,11.6 54.0,4.0" fill="#62e662"/><polygon points="34.0,0.0 55.0,0.0 50.7,50.0 30.4,50.0" fill="#686868"/><g transform="translate(39.5,37.8) scale(0.357)"><rect x="-4.9" y="0" width="9.8" height="2.2" fill="#e89090"/><rect x="-5.8" y="2.2" width="2.2" height="4.6" fill="#c08080"/><rect x="3.6" y="2.2" width="2.2" height="4.6" fill="#c08080"/><rect x="-1.5" y="1" width="3" height="18" fill="#e89090"/><ellipse cx="0" cy="12.9" rx="4.3" ry="4.4" fill="#e89090"/><rect x="-5.8" y="16.3" width="2.2" height="4.3" fill="#c08080"/><rect x="3.6" y="16.3" width="2.2" height="4.3" fill="#c08080"/><rect x="-4.4" y="18.8" width="8.8" height="2.6" fill="#e89090"/></g></g><rect x="0" y="49.3" width="80" height="8.5" filter="url(#cnoise)"/></g><rect x="0" y="0" width="80" height="57.2" fill="none" stroke="#5a6478" stroke-width="0.8"/></g><g transform="matrix(1,-0.145,0,1,141.6,419.2)"><clipPath id="clip_f2"><rect x="0" y="0" width="80" height="57.2"/></clipPath><rect x="0" y="0" width="80" height="57.2" fill="#fff"/><g clip-path="url(#clip_f2)"><g filter="url(#noise)"><rect x="0" y="0" width="80" height="57.2" fill="#5ecf5e"/><polygon points="19.6,22.0 31.0,36.0 29.0,50.0 6.0,50.0 4.0,40.0" fill="#62e662"/><polygon points="57.5,0.0 80.0,0.0 80.0,12.0 60.0,25.3 55.0,14.0" fill="#62e662"/><polygon points="36.3,0.0 57.5,0.0 51.3,50.0 30.1,50.0" fill="#686868"/><g transform="translate(39.5,37.8) scale(0.357)"><rect x="-4.9" y="0" width="9.8" height="2.2" fill="#e89090"/><rect x="-5.8" y="2.2" width="2.2" height="4.6" fill="#c08080"/><rect x="3.6" y="2.2" width="2.2" height="4.6" fill="#c08080"/><rect x="-1.5" y="1" width="3" height="18" fill="#e89090"/><ellipse cx="0" cy="12.9" rx="4.3" ry="4.4" fill="#e89090"/><rect x="-5.8" y="16.3" width="2.2" height="4.3" fill="#c08080"/><rect x="3.6" y="16.3" width="2.2" height="4.3" fill="#c08080"/><rect x="-4.4" y="18.8" width="8.8" height="2.6" fill="#e89090"/></g></g><rect x="0" y="49.3" width="80" height="8.5" filter="url(#cnoise)"/></g><rect x="0" y="0" width="80" height="57.2" fill="none" stroke="#5a6478" stroke-width="0.8"/></g><g transform="matrix(1,-0.145,0,1,205.7,419.2)"><clipPath id="clip_f3"><rect x="0" y="0" width="80" height="57.2"/></clipPath><rect x="0" y="0" width="80" height="57.2" fill="#fff"/><g clip-path="url(#clip_f3)"><g filter="url(#noise)"><rect x="0" y="0" width="80" height="57.2" fill="#5ecf5e"/><polygon points="12.0,30.0 24.0,44.0 18.0,50.0 6.0,50.0" fill="#62e662"/><polygon points="48.0,8.0 60.0,22.0 52.0,40.0" fill="#62e662"/><polygon points="25.8,0.0 46.8,0.0 52.1,50.0 31.2,50.0" fill="#686868"/><g transform="translate(39.7,37.8) scale(0.357)"><rect x="-4.9" y="0" width="9.8" height="2.2" fill="#e89090"/><rect x="-5.8" y="2.2" width="2.2" height="4.6" fill="#c08080"/><rect x="3.6" y="2.2" width="2.2" height="4.6" fill="#c08080"/><rect x="-1.5" y="1" width="3" height="18" fill="#e89090"/><ellipse cx="0" cy="12.9" rx="4.3" ry="4.4" fill="#e89090"/><rect x="-5.8" y="16.3" width="2.2" height="4.3" fill="#c08080"/><rect x="3.6" y="16.3" width="2.2" height="4.3" fill="#c08080"/><rect x="-4.4" y="18.8" width="8.8" height="2.6" fill="#e89090"/></g></g><rect x="0" y="49.3" width="80" height="8.5" filter="url(#cnoise)"/></g><rect x="0" y="0" width="80" height="57.2" fill="none" stroke="#5a6478" stroke-width="0.8"/></g><g transform="matrix(1,-0.145,0,1,269.8,419.2)"><clipPath id="clip_f4"><rect x="0" y="0" width="80" height="57.2"/></clipPath><rect x="0" y="0" width="80" height="57.2" fill="#fff"/><g clip-path="url(#clip_f4)"><g filter="url(#noise)"><rect x="0" y="0" width="80" height="57.2" fill="#5ecf5e"/><polygon points="0.0,0.0 26.6,0.0 26.4,8.0 15.6,19.2 0.0,3.0" fill="#62e662"/><polygon points="50.9,14.5 72.5,32.3 61.7,46.4 50.7,35.0" fill="#62e662"/><polygon points="27.0,0.0 47.6,0.0 50.9,50.0 31.3,50.0" fill="#686868"/><g transform="translate(40.3,38.1) scale(0.357)"><rect x="-4.9" y="0" width="9.8" height="2.2" fill="#e89090"/><rect x="-5.8" y="2.2" width="2.2" height="4.6" fill="#c08080"/><rect x="3.6" y="2.2" width="2.2" height="4.6" fill="#c08080"/><rect x="-1.5" y="1" width="3" height="18" fill="#e89090"/><ellipse cx="0" cy="12.9" rx="4.3" ry="4.4" fill="#e89090"/><rect x="-5.8" y="16.3" width="2.2" height="4.3" fill="#c08080"/><rect x="3.6" y="16.3" width="2.2" height="4.3" fill="#c08080"/><rect x="-4.4" y="18.8" width="8.8" height="2.6" fill="#e89090"/></g></g><rect x="0" y="49.3" width="80" height="8.5" filter="url(#cnoise)"/></g><rect x="0" y="0" width="80" height="57.2" fill="none" stroke="#5a6478" stroke-width="0.8"/></g>
<line x1="380.4" y1="100.2" x2="395.3" y2="100.2" stroke="#7b93d4" stroke-width="1.1"/>
<text x="397.5" y="102.2" font-size="7.2">Left</text>
<line x1="415.3" y1="100.2" x2="429" y2="100.2" stroke="#f4845a" stroke-width="1.1"/>
<text x="432.6" y="102.2" font-size="7.2">Right</text>
<line x1="455" y1="100.2" x2="469" y2="100.2" stroke="#4bbb92" stroke-width="1.1"/>
<text x="472.2" y="102.2" font-size="7.2">Right − Left</text>
<text x="390" y="116.0" font-size="7.2" text-anchor="end">1</text><rect x="395.8" y="112.9" width="2" height="1" fill="#000"/><text x="390" y="130.5" font-size="7.2" text-anchor="end">0.75</text><rect x="395.8" y="127.4" width="2" height="1" fill="#000"/><text x="390" y="145.0" font-size="7.2" text-anchor="end">0.5</text><rect x="395.8" y="141.9" width="2" height="1" fill="#000"/><text x="390" y="159.4" font-size="7.2" text-anchor="end">0.25</text><rect x="395.8" y="156.3" width="2" height="1" fill="#000"/><text x="390" y="173.9" font-size="7.2" text-anchor="end">0</text><rect x="395.8" y="170.8" width="2" height="1" fill="#000"/><text x="390" y="188.4" font-size="7.2" text-anchor="end">−0.25</text><rect x="395.8" y="185.3" width="2" height="1" fill="#000"/><text transform="translate(369,149.6) rotate(-90)" font-size="7.2" text-anchor="middle">Intensity</text><line x1="398.8" y1="171.3" x2="502.9" y2="171.3" stroke="#555" stroke-width="1" stroke-dasharray="4 3"/><rect x="422.1" y="183.8" width="1" height="2" fill="#000"/><rect x="448.9" y="183.8" width="1" height="2" fill="#000"/><rect x="475.6" y="183.8" width="1" height="2" fill="#000"/><path d="M395.8,145.3 C397.7,145.1 403.6,144.4 407.1,143.9 C410.7,143.4 414.2,141.9 417.1,142.1 C420.0,142.3 421.4,144.8 424.2,145.3 C427.0,145.8 430.2,145.0 434.2,145.3 C438.2,145.7 443.4,147.5 448.0,147.4 C452.6,147.3 457.3,144.7 462.1,144.7 C466.9,144.7 472.3,147.1 476.8,147.4 C481.3,147.7 484.9,146.7 489.2,146.5 C493.5,146.3 500.4,146.2 502.7,146.2" fill="none" stroke="#7b93d4" stroke-width="1.3"/><path d="M395.8,142.4 C397.7,142.7 403.6,142.9 407.1,143.9 C410.7,144.9 414.2,147.8 417.1,148.2 C420.0,148.6 420.8,145.9 424.2,146.2 C427.6,146.5 433.7,149.3 437.7,150.0 C441.7,150.7 443.9,149.9 448.0,150.2 C452.1,150.5 458.2,152.7 462.1,151.8 C466.0,150.9 468.0,146.5 471.5,144.7 C475.0,142.9 479.4,141.2 483.3,141.2 C487.2,141.1 491.9,144.0 495.1,144.4 C498.3,144.8 501.4,143.7 502.7,143.5" fill="none" stroke="#f4845a" stroke-width="1.3"/><path d="M395.8,168.8 C397.7,169.2 403.6,170.0 407.1,171.4 C410.7,172.8 414.0,177.4 417.1,177.4 C420.2,177.4 422.7,171.5 425.9,171.2 C429.1,170.8 432.8,174.8 436.5,175.3 C440.2,175.8 443.7,173.5 448.0,174.1 C452.3,174.7 458.2,179.4 462.1,178.8 C466.0,178.2 468.2,172.8 471.5,170.6 C474.8,168.4 478.2,166.1 482.1,165.9 C486.0,165.7 491.7,169.0 495.1,169.4 C498.5,169.8 501.4,168.4 502.7,168.2" fill="none" stroke="#4bbb92" stroke-width="1.3"/><path d="M395.8,113.4 H502.9 V185.8 H395.8 Z" fill="none" stroke="#111" stroke-width="1.35"/>
<text x="390" y="201.3" font-size="7.2" text-anchor="end">1</text><rect x="395.8" y="198.2" width="2" height="1" fill="#000"/><text x="390" y="215.8" font-size="7.2" text-anchor="end">0.75</text><rect x="395.8" y="212.7" width="2" height="1" fill="#000"/><text x="390" y="230.3" font-size="7.2" text-anchor="end">0.5</text><rect x="395.8" y="227.2" width="2" height="1" fill="#000"/><text x="390" y="244.7" font-size="7.2" text-anchor="end">0.25</text><rect x="395.8" y="241.6" width="2" height="1" fill="#000"/><text x="390" y="259.2" font-size="7.2" text-anchor="end">0</text><rect x="395.8" y="256.1" width="2" height="1" fill="#000"/><text x="390" y="273.7" font-size="7.2" text-anchor="end">−0.25</text><rect x="395.8" y="270.6" width="2" height="1" fill="#000"/><text transform="translate(369,234.9) rotate(-90)" font-size="7.2" text-anchor="middle">Intensity</text><line x1="398.8" y1="256.6" x2="502.9" y2="256.6" stroke="#555" stroke-width="1" stroke-dasharray="4 3"/><rect x="422.1" y="269.1" width="1" height="2" fill="#000"/><rect x="448.9" y="269.1" width="1" height="2" fill="#000"/><rect x="475.6" y="269.1" width="1" height="2" fill="#000"/><path d="M395.8,234.4 C397.7,234.3 403.5,234.0 407.1,233.6 C410.8,233.2 414.8,232.0 417.7,232.1 C420.6,232.2 422.1,234.2 424.8,234.4 C427.6,234.6 431.3,233.3 434.2,233.5 C437.1,233.7 440.1,235.4 442.4,235.6 C444.7,235.8 444.7,235.0 448.0,234.8 C451.3,234.6 458.4,234.1 462.1,234.4 C465.8,234.7 466.9,236.2 470.4,236.4 C473.9,236.6 477.9,235.9 483.3,235.6 C488.7,235.3 499.5,234.6 502.7,234.4" fill="none" stroke="#7b93d4" stroke-width="1.3"/><path d="M395.8,232.9 C397.3,233.1 401.4,233.2 404.8,233.8 C408.2,234.5 413.0,236.6 416.5,236.8 C420.0,237.0 422.9,234.8 426.0,235.0 C429.1,235.2 432.7,237.7 435.4,238.2 C438.1,238.7 440.3,237.7 442.4,237.9 C444.5,238.2 445.3,239.3 448.0,239.7 C450.7,240.1 456.1,240.3 458.6,240.1 C461.2,239.9 461.2,239.7 463.3,238.5 C465.4,237.3 469.1,234.3 471.5,233.2 C473.9,232.1 475.2,232.1 477.4,232.1 C479.6,232.1 480.3,233.1 484.5,233.2 C488.7,233.2 499.7,232.5 502.7,232.4" fill="none" stroke="#f4845a" stroke-width="1.3"/><path d="M395.8,254.8 C397.3,255.1 401.2,255.7 404.8,256.8 C408.4,257.9 413.7,261.5 417.1,261.5 C420.5,261.5 422.3,257.0 425.4,257.0 C428.4,257.0 432.8,261.2 435.4,261.5 C438.0,261.8 439.0,258.8 441.2,258.8 C443.4,258.8 445.2,261.1 448.3,261.7 C451.4,262.2 456.5,263.0 459.8,262.1 C463.1,261.2 465.3,257.8 468.0,256.2 C470.7,254.6 473.4,253.0 476.2,252.6 C478.9,252.2 480.1,253.5 484.5,253.8 C488.9,254.1 499.7,254.3 502.7,254.4" fill="none" stroke="#4bbb92" stroke-width="1.3"/><path d="M395.8,198.7 H502.9 V271.1 H395.8 Z" fill="none" stroke="#111" stroke-width="1.35"/><text x="395.8" y="281.9" font-size="7.2" text-anchor="middle">30</text><text x="422.6" y="281.9" font-size="7.2" text-anchor="middle">40</text><text x="449.4" y="281.9" font-size="7.2" text-anchor="middle">50</text><text x="476.1" y="281.9" font-size="7.2" text-anchor="middle">60</text><text x="502.9" y="281.9" font-size="7.2" text-anchor="middle">70</text><text x="449.4" y="293.1" font-size="7.2" text-anchor="middle">Frame</text>
<text x="390" y="309.8" font-size="7.2" text-anchor="end">1</text><rect x="395.8" y="306.7" width="2" height="1" fill="#000"/><text x="390" y="324.3" font-size="7.2" text-anchor="end">0.75</text><rect x="395.8" y="321.2" width="2" height="1" fill="#000"/><text x="390" y="338.8" font-size="7.2" text-anchor="end">0.5</text><rect x="395.8" y="335.7" width="2" height="1" fill="#000"/><text x="390" y="353.2" font-size="7.2" text-anchor="end">0.25</text><rect x="395.8" y="350.1" width="2" height="1" fill="#000"/><text x="390" y="367.7" font-size="7.2" text-anchor="end">0</text><rect x="395.8" y="364.6" width="2" height="1" fill="#000"/><text x="390" y="382.2" font-size="7.2" text-anchor="end">−0.25</text><rect x="395.8" y="379.1" width="2" height="1" fill="#000"/><text transform="translate(369,343.4) rotate(-90)" font-size="7.2" text-anchor="middle">Intensity</text><line x1="398.8" y1="365.1" x2="502.9" y2="365.1" stroke="#555" stroke-width="1" stroke-dasharray="4 3"/><rect x="422.1" y="377.6" width="1" height="2" fill="#000"/><rect x="448.9" y="377.6" width="1" height="2" fill="#000"/><rect x="475.6" y="377.6" width="1" height="2" fill="#000"/><path d="M395.8,341.2 C396.9,340.8 398.9,339.1 402.4,338.9 C405.8,338.6 411.2,339.8 416.5,339.7 C421.8,339.6 428.9,338.5 434.2,338.3 C439.4,338.1 443.7,338.1 448.0,338.5 C452.3,338.9 455.3,339.8 459.8,340.6 C464.3,341.5 471.6,343.6 475.1,343.6 C478.6,343.6 478.9,340.7 480.9,340.6 C482.8,340.5 484.2,342.9 486.8,343.2 C489.4,343.5 493.6,342.9 496.2,342.4 C498.8,341.9 501.6,340.5 502.7,340.1" fill="none" stroke="#7b93d4" stroke-width="1.3"/><path d="M395.8,336.9 C396.5,337.0 398.8,336.8 400.1,337.4 C401.4,338.0 402.2,339.9 403.6,340.4 C405.0,340.8 405.2,339.9 408.3,340.1 C411.4,340.3 415.8,341.6 422.4,341.6 C429.0,341.7 439.2,340.9 448.0,340.4 C456.8,339.9 469.5,338.5 475.1,338.5 C480.7,338.5 479.6,340.2 481.5,340.4 C483.4,340.6 484.2,339.9 486.8,339.5 C489.4,339.1 494.8,338.2 497.4,338.3 C500.0,338.4 501.8,339.8 502.7,340.1" fill="none" stroke="#f4845a" stroke-width="1.3"/><path d="M395.8,360.6 C396.3,360.7 397.6,360.2 398.9,361.2 C400.2,362.1 401.8,365.7 403.6,366.3 C405.4,366.9 405.6,364.6 409.5,364.8 C413.4,365.0 420.7,367.4 427.1,367.7 C433.5,368.0 440.0,368.0 448.0,366.8 C456.0,365.6 469.5,360.9 475.1,360.4 C480.7,359.9 479.6,363.8 481.5,363.9 C483.4,364.0 484.4,361.6 486.8,361.2 C489.2,360.8 493.6,360.6 496.2,361.2 C498.8,361.8 501.6,364.2 502.7,364.8" fill="none" stroke="#4bbb92" stroke-width="1.3"/><path d="M395.8,307.2 H502.9 V379.6 H395.8 Z" fill="none" stroke="#111" stroke-width="1.35"/>
<text x="390" y="395.5" font-size="7.2" text-anchor="end">1</text><rect x="395.8" y="392.4" width="2" height="1" fill="#000"/><text x="390" y="410.0" font-size="7.2" text-anchor="end">0.75</text><rect x="395.8" y="406.9" width="2" height="1" fill="#000"/><text x="390" y="424.5" font-size="7.2" text-anchor="end">0.5</text><rect x="395.8" y="421.4" width="2" height="1" fill="#000"/><text x="390" y="438.9" font-size="7.2" text-anchor="end">0.25</text><rect x="395.8" y="435.8" width="2" height="1" fill="#000"/><text x="390" y="453.4" font-size="7.2" text-anchor="end">0</text><rect x="395.8" y="450.3" width="2" height="1" fill="#000"/><text x="390" y="467.9" font-size="7.2" text-anchor="end">−0.25</text><rect x="395.8" y="464.8" width="2" height="1" fill="#000"/><text transform="translate(369,429.1) rotate(-90)" font-size="7.2" text-anchor="middle">Intensity</text><line x1="398.8" y1="450.8" x2="502.9" y2="450.8" stroke="#555" stroke-width="1" stroke-dasharray="4 3"/><rect x="422.1" y="463.3" width="1" height="2" fill="#000"/><rect x="448.9" y="463.3" width="1" height="2" fill="#000"/><rect x="475.6" y="463.3" width="1" height="2" fill="#000"/><path d="M395.8,414.4 C397.3,414.5 401.0,414.9 404.8,415.0 C408.6,415.1 414.0,415.2 418.9,415.0 C423.8,414.8 431.0,413.7 434.2,413.8 C437.4,413.9 436.7,415.4 438.3,415.4 C439.9,415.4 442.0,414.0 443.6,413.8 C445.2,413.6 445.3,413.8 448.0,414.2 C450.7,414.6 456.3,416.3 459.8,416.2 C463.3,416.1 466.6,414.4 469.2,413.8 C471.8,413.2 473.8,412.6 475.6,412.6 C477.4,412.6 476.8,413.7 479.8,413.8 C482.9,413.9 491.0,412.9 493.9,413.0 C496.8,413.1 495.9,414.3 497.4,414.4 C498.9,414.5 501.8,413.6 502.7,413.5" fill="none" stroke="#7b93d4" stroke-width="1.3"/><path d="M395.8,412.6 C397.3,412.7 400.4,412.8 404.8,413.0 C409.2,413.2 417.7,413.7 422.4,413.6 C427.1,413.5 430.4,412.5 433.0,412.6 C435.6,412.7 436.7,414.2 438.3,414.2 C439.9,414.1 440.8,412.7 442.4,412.3 C444.0,411.9 445.3,412.1 448.0,411.8 C450.7,411.5 455.9,410.6 458.6,410.5 C461.4,410.4 462.4,410.6 464.5,411.5 C466.6,412.4 469.1,414.7 471.5,415.6 C473.9,416.5 476.6,417.1 478.6,417.1 C480.6,417.1 481.3,415.8 483.3,415.8 C485.3,415.8 488.0,417.4 490.4,417.1 C492.8,416.8 495.3,414.6 497.4,414.2 C499.4,413.8 501.8,414.9 502.7,415.0" fill="none" stroke="#f4845a" stroke-width="1.3"/><path d="M395.8,448.8 C399.6,448.8 413.9,448.6 418.9,448.8 C423.9,449.1 422.4,450.2 425.9,450.3 C429.4,450.4 436.4,449.5 440.1,449.1 C443.8,448.7 444.7,448.5 448.0,447.9 C451.3,447.3 456.9,445.8 459.8,445.6 C462.7,445.4 463.5,445.5 465.6,446.8 C467.8,448.1 469.8,452.1 472.7,453.2 C475.6,454.3 480.4,453.0 483.3,453.2 C486.2,453.4 488.0,455.1 490.4,454.6 C492.8,454.1 495.3,450.7 497.4,450.3 C499.4,449.9 501.8,452.0 502.7,452.3" fill="none" stroke="#4bbb92" stroke-width="1.3"/><path d="M395.8,392.9 H502.9 V465.3 H395.8 Z" fill="none" stroke="#111" stroke-width="1.35"/><text x="395.8" y="476.1" font-size="7.2" text-anchor="middle">190</text><text x="422.6" y="476.1" font-size="7.2" text-anchor="middle">200</text><text x="449.4" y="476.1" font-size="7.2" text-anchor="middle">210</text><text x="476.1" y="476.1" font-size="7.2" text-anchor="middle">220</text><text x="502.9" y="476.1" font-size="7.2" text-anchor="middle">230</text><text x="449.4" y="487.3" font-size="7.2" text-anchor="middle">Frame</text>
</svg>
</body></html>
